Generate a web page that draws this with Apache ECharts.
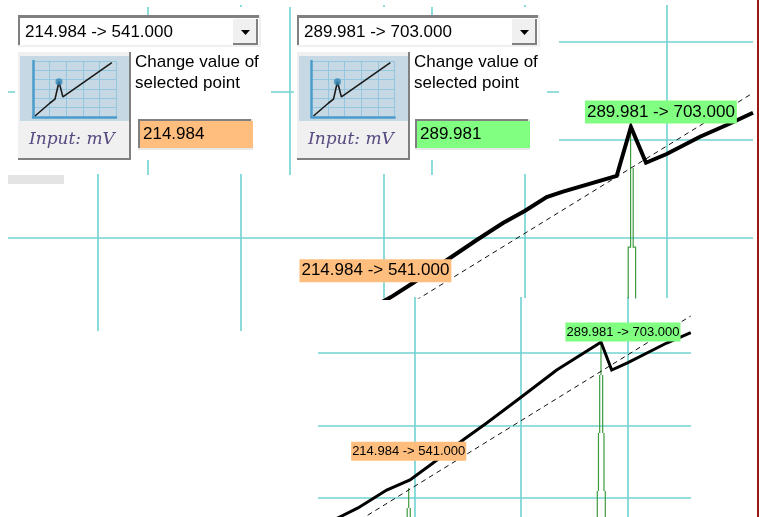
<!DOCTYPE html>
<html><head><meta charset="utf-8">
<style>html,body{margin:0;padding:0;background:#fff}#c{width:759px;height:517px}</style>
<script src="https://cdn.jsdelivr.net/npm/echarts@6/dist/echarts.min.js"></script>
</head><body><div id="c"></div>
<script>
// ---- texts
const pointA = '214.984 -> 541.000';
const pointB = '289.981 -> 703.000';
const inputA = '214.984';
const inputB = '289.981';
const selectedA = [214.984, 541];
const selectedB = [289.981, 703];

// ---- upper curve view
const upperCurve = [[214,546],[219.83,555.5],[226.26,567.7],[237.08,589.4],[244.89,605],[252.58,619.7],[258.92,630.1],[265.35,642.3],[270.12,646.9],[285.82,660.5],[289.981,703],[294.39,672],[300.44,679.6],[310.18,694.6],[317.99,704.7],[325.68,715.4]];
const upperRef = [[213.69,528.2],[325.68,732.5]];
const upperEnvLeft = [[289.89,703],[289.89,598.9],[289.19,598.9],[289.19,540]];
const upperEnvRight = [[290.65,667.4],[290.65,598.9],[291.35,598.9],[291.35,540]];
const upperGridX = [134.1,175.9,217.7,258.9,300.45];
const upperGridY = [776.7,691.7,606.7];
const backGridX = [148.78,190.3,231.82];
const backGridY = [733.35];
const stubGridX = [134.1,175.9];

// ---- lower curve view
const lowerCurve = [[184.29,493.5],[188.85,500.44],[195.21,509.8],[206.4,530.7],[215.49,542.4],[224.46,562.2],[236.16,588.9],[245.41,608.7],[258.39,637.8],[272.71,670.4],[289,701],[289.981,703],[294.16,670.4],[300.51,678.9],[315.61,701.8],[325,713.8]];
const lowerRef = [[195.99,495.8],[325,733.3]];
const lowerEnvA = [[[214.984,533],[214.984,509.8]],[[214.4,509.8],[214.4,490]],[[215.6,509.8],[215.6,490]]];
const lowerEnvB = [[[289.981,703],[289.981,664.6]],
  [[289.47,664.6],[289.47,597.1]],[[290.64,664.6],[290.64,597.1]],
  [[289,597.1],[289,529.6]],[[291.15,597.1],[291.15,529.6]],
  [[288.54,529.6],[288.54,490]],[[291.66,529.6],[291.66,490]]];
const lowerGridX = [217.3,258.8,300.5];
const lowerGridY = [690.5,605,521.2];

// ---- small icon on the buttons
const iconLine = [[2.4,1.8],[20.5,25],[26.5,32],[31.3,63],[36,36],[95,97]];
const iconDot = [[31.3,63]];
const iconGridX = [20,40,60,80,100];
const iconGridY = [16.7,33.3,50,66.7,83.3,100];

const TEAL = '#70d3d3', GREEN = '#3f9a3f', ORANGE = '#ffbe7d', LIME = '#80ff80';
const FONT = '"Liberation Sans", Arial, sans-serif';
const grids = [], xAxes = [], yAxes = [], series = [];

function view(rect, xr, yr, gx, gy, o) {
  o = o || {};
  const i = grids.length;
  grids.push({left: rect[0], top: rect[1], width: rect[2] - rect[0], height: rect[3] - rect[1], show: false});
  const sl = {show: true, lineStyle: {color: o.color || TEAL, width: o.width || 1.6}};
  const ax = (r, vals) => ({
    type: 'value', gridIndex: i, min: r[0], max: r[1], z: o.z || 0, silent: true,
    axisLine: {show: false}, axisLabel: {show: false},
    axisTick: {show: false, customValues: vals},
    splitLine: vals.length ? sl : {show: false}
  });
  xAxes.push(ax(xr, gx));
  yAxes.push(ax(yr, gy));
  return i;
}
function line(i, data, color, width, dash, z) {
  series.push({type: 'line', xAxisIndex: i, yAxisIndex: i, data, symbol: 'none', silent: true, z: z || 3,
    lineStyle: {color, width, type: dash || 'solid', join: 'miter'}});
}
function tag(i, pt, text, bg, size, off, pad) {
  series.push({type: 'scatter', xAxisIndex: i, yAxisIndex: i, data: [pt], symbolSize: 1, clip: false, silent: true, z: 6,
    itemStyle: {color: 'rgba(0,0,0,0)', opacity: 1},
    label: {show: true, position: 'inside', formatter: text, offset: off, color: '#000', fontFamily: FONT,
      fontSize: size, backgroundColor: bg, padding: pad, opacity: 1}});
}

// upper view + its leftovers
const U = view([8,5,753,298], [107.84,325.68], [554.7,808.8], upperGridX, upperGridY);
view([8,298,300,331], [107.84,193.22], [526.1,554.7], stubGridX, []);
view([8,7,559,175], [107.84,268.95], [661.4,807.07], backGridX, backGridY, {z: 2});
line(U, upperEnvLeft, GREEN, 1.2);
line(U, upperEnvRight, GREEN, 1.2);
line(U, upperRef, '#111', 1, [5,4]);
line(U, upperCurve, '#000', 4);
tag(U, selectedA, pointA, ORANGE, 17, [1,-43], [3,2]);
tag(U, selectedB, pointB, LIME, 17, [30,-15], [3,2]);

// lower view
const L = view([318,297,691,517], [179.61,325.09], [499.28,755.39], lowerGridX, lowerGridY);
lowerEnvA.forEach(s => line(L, s, GREEN, 1.2));
lowerEnvB.forEach(s => line(L, s, GREEN, 1.2));
line(L, lowerRef, '#111', 1, [5,4]);
line(L, lowerCurve, '#000', 3);
tag(L, selectedA, pointA, ORANGE, 13, [0,-30], [3,1]);
tag(L, selectedB, pointB, LIME, 13, [22,-10], [3,1]);

// ---- widgets
const g = [];
const rect = (x,y,w,h,fill,z) => g.push({type:'rect', z:z||4, silent:true, shape:{x,y,width:w,height:h}, style:{fill}});
const text = (x,y,t,size,z,fill,font) => g.push({type:'text', z:z||6, silent:true, style:{x,y,text:t,fill:fill||'#000',font:font||(size+'px '+FONT),verticalAlign:'middle',align:'left'}});

rect(0,7,559,167,'#fff',1);
rect(0,0,200,7,'#fff',1);
rect(8,175,56,9,'#e4e4e4',4);
rect(757,0,2,517,'#a01414',8);

function panel(dx, dx2, dx3, comboText, inputText, fill, panelW) {
  rect(15+dx,16,panelW,144,'#fff',3);
  // combo
  rect(18+dx,15,243,32,'#f0f0f0');
  rect(18+dx,15,241,30,'#808080');
  rect(20+dx,18,239,27,'#fff',5);
  rect(233+dx,19,25,26,'#808080',5);
  rect(233+dx,19,23,24,'#f0f0f0',5);
  g.push({type:'polygon', z:6, silent:true, shape:{points:[[241+dx,30],[250+dx,30],[245.5+dx,35]]}, style:{fill:'#000'}});
  text(25+dx,32,comboText,17);
  // button
  rect(18+dx,52,113,108,'#808080');
  rect(18+dx,52,111,106,'#f0f0f0',5);
  rect(20+dx,56,109,65,'#c5d8e3',5);
  text(29+dx,140,'Input: mV',17,6,'#584a80','italic 17px "DejaVu Serif", serif');
  // caption
  text(135+dx2,62,'Change value of',17);
  text(135+dx2,83,'selected point',17);
  // input
  rect(138+dx3,119,115,31,'#e8e8e8');
  rect(138+dx3,119,113,29,'#808080');
  rect(140+dx3,121,113,27,fill,5);
  text(143+dx3,134,inputText,17);
}
panel(0,0,0,pointA,inputA,ORANGE,256);
panel(279,279,277,pointB,inputB,LIME,253);

// icon plots drawn over the buttons
[33,311.5].forEach(x0 => {
  const i = view([x0,61,x0+83,117], [0,100], [0,100], iconGridX, iconGridY, {color:'#93c6df', width:1, z:5});
  xAxes[i].axisLine = {show:true, onZero:false, lineStyle:{color:'#4a9ccb', width:2.5}};
  yAxes[i].axisLine = {show:true, onZero:false, lineStyle:{color:'#4a9ccb', width:2.5}};
  series.push({type:'line', xAxisIndex:i, yAxisIndex:i, data:iconLine, symbol:'none', silent:true, z:7, lineStyle:{color:'#1a1a1a', width:1.6}});
  series.push({type:'scatter', xAxisIndex:i, yAxisIndex:i, data:iconDot, symbolSize:7, silent:true, z:7, itemStyle:{color:'#2f86b5'}});
});

const chart = echarts.init(document.getElementById('c'), null, {renderer:'canvas'});
chart.setOption({animation:false, backgroundColor:'#fff', grid:grids, xAxis:xAxes, yAxis:yAxes, series, graphic:{elements:g}});
</script></body></html>
